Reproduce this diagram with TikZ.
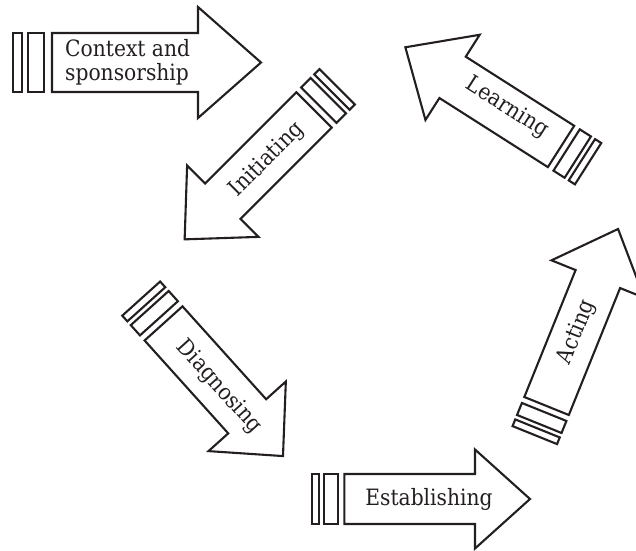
\documentclass[tikz,border=0pt]{standalone}
\usepackage{fontspec}
\setmainfont{DejaVu Serif}
\newfontfamily\slabfont{DejaVu Serif Condensed}
\definecolor{ink}{HTML}{231F20}

% A pencil-shaped arrow drawn in its own frame: tail at the origin, pointing along +x.
% #1,#2 tail (pixel coords, y down)  #3 direction  #4 half height of bars and body
% #5 body start  #6 body end  #7 half height of head  #8 tip
\newcommand{\pencilarrow}[8]{%
  \begin{scope}[shift={(#1,550-#2)}, rotate=#3]
    \draw[outline] (0,-#4) rectangle (0.3*#4,#4);
    \draw[outline] (0.5*#4,-#4) rectangle (1.04*#4,#4);
    \draw[outline] (#5,-#4) -- (#6,-#4) -- (#6,-#7) -- (#8,0)
                   -- (#6,#7) -- (#6,#4) -- (#5,#4) -- cycle;
  \end{scope}}

\begin{document}
\begin{tikzpicture}[x=1pt,y=1pt,
  outline/.style={draw=ink, line width=2.1pt, line join=miter},
  txt/.style={text=ink, font=\slabfont\fontsize{22.5}{26}\selectfont, inner sep=0pt}]
\useasboundingbox (0,0) rectangle (636,550);
\clip (0,0) rectangle (636,550);

% the six stages
\pencilarrow{13}{62.5}{0}{29.5}{39}{185}{55.5}{248}
\pencilarrow{337.2}{86.8}{225}{25}{32.75}{161.75}{50.5}{215.75}
\pencilarrow{588.1}{163.7}{147.5}{24.5}{32.1}{160.7}{50.5}{216.7}
\pencilarrow{141.2}{298.6}{-48}{25.5}{33.4}{158.4}{52}{211.9}
\pencilarrow{311.7}{499}{0}{25}{32.6}{163.3}{49.5}{218.3}
\pencilarrow{534.8}{435.1}{68}{24}{31.4}{168.3}{50}{222.3}

% stage names
\node[txt, anchor=base west] (ctxA) at (65,550-56.7) {Context and};
\node[txt, anchor=base west] (ctxB) at (65,550-80.7) {sponsorship};
\node[txt, rotate=45] (init) at (267,550-160) {Initiating};
\node[txt, rotate=-32.5] (learn) at (507,550-108) {Learning};
\node[txt, rotate=-48] (diag) at (219,550-387) {Diagnosing};
\node[txt, anchor=base] (estab) at (429,550-505) {Establishing};
\node[txt, rotate=68] (act) at (577,550-332) {Acting};
\end{tikzpicture}
\end{document}
